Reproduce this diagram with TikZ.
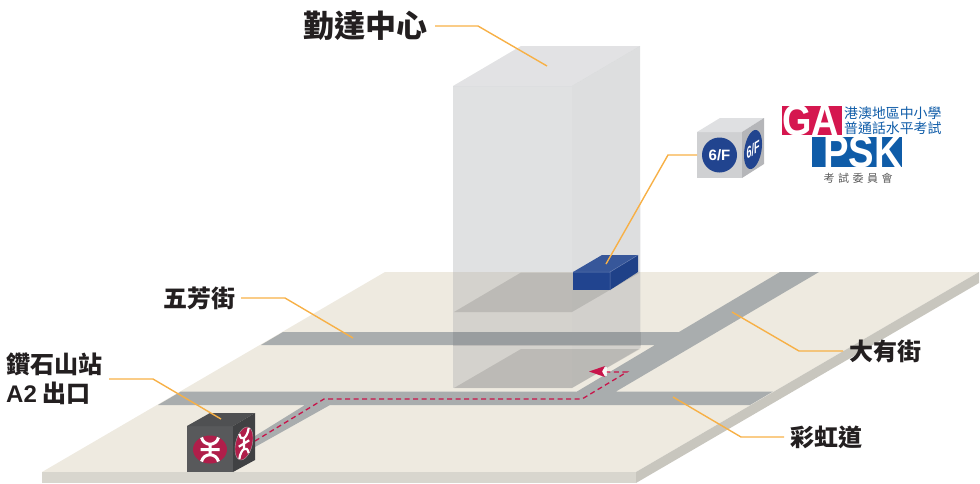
\documentclass[tikz,border=0pt]{standalone}
\usepackage{fontspec}
\setmainfont{Liberation Sans}
\newfontfamily\cjk{Noto Sans CJK TC}
\definecolor{ground}{HTML}{EEEAE0}
\definecolor{groundfront}{HTML}{D8D6CE}
\definecolor{groundside}{HTML}{C8C6BE}
\definecolor{road}{HTML}{A9ADAE}
\definecolor{leadercol}{HTML}{F7B046}
\definecolor{routecol}{HTML}{C8144A}
\definecolor{labelcol}{HTML}{231F20}
\definecolor{blueF}{HTML}{21448F}
\definecolor{mtrred}{HTML}{B01E4A}
\definecolor{glass}{RGB}{166,168,172}
\definecolor{mtrfront}{HTML}{58595B}
\definecolor{mtrtop}{HTML}{4F5052}
\definecolor{mtrside}{HTML}{404143}
\definecolor{cubefront}{HTML}{CFD0D2}
\definecolor{cubetop}{HTML}{DFE0E2}
\definecolor{cubeside}{HTML}{B5B6B9}
\definecolor{garedc}{HTML}{D5174F}
\definecolor{pskblue}{HTML}{0F5CA8}
\tikzset{
  x=1pt,y=-1pt,
  leader/.style={draw=leadercol,line width=1.4pt},
  lab/.style={inner sep=0pt,text=labelcol,font=\cjk\bfseries\fontsize{24}{24}\selectfont},
  route/.style={draw=routecol,line width=1.3pt,dash pattern=on 5pt off 3.5pt},
  cubetext/.style={inner sep=0pt,text=white,font=\bfseries\fontsize{15}{15}\selectfont},
}
\newcommand\mtrlogo[1]{%
  \draw[white,line width=#1] (0pt,-5pt)--(0pt,5pt) (-9.5pt,0pt)--(9.5pt,0pt)
  (-8.5pt,12pt) .. controls (-6pt,3pt) and (6pt,3pt) .. (8.5pt,12pt)
  (-8.5pt,-12pt) .. controls (-6pt,-3pt) and (6pt,-3pt) .. (8.5pt,-12pt);}
\begin{document}
\begin{tikzpicture}
\useasboundingbox (0,0) rectangle (980,483);
% ground
\fill[ground] (385,272)--(979,272)--(636,472)--(42,472)--cycle;
\fill[groundfront] (42,472)--(636,472)--(636,483)--(42,483)--cycle;
\fill[groundside] (636,472)--(979,272)--(979,283)--(636,483)--cycle;
% roads
\fill[road] (283,332)--(679,332)--(780,272)--(819,272)--(616,391.5)--(773,391.5)--(750,405)--(330,405)--(255,447)--(255,436)--(305,405)--(158,405)--(181,391.5)--(577,391.5)--(655,345)--(261,345)--cycle;
% building
\fill[glass,fill opacity=.35] (453,86)--(572,86)--(572,388)--(453,388)--cycle;
\fill[glass,fill opacity=.38] (572,86)--(640,46)--(640.5,348)--(572,388)--cycle;
\fill[glass,fill opacity=.33] (453,86)--(521,46)--(640,46)--(572,86)--cycle;
\fill[black,fill opacity=.11] (454,312)--(521,272.5)--(640,272.5)--(572,312)--cycle;
\fill[black,fill opacity=.11] (454,388)--(521,349)--(640,349)--(572,388)--cycle;
\fill[black,fill opacity=.08] (453,332)--(640.5,332)--(640.5,346)--(453,346)--cycle;
% blue box
\fill[blueF] (573,272)--(610,272)--(610,290)--(573,290)--cycle;
\fill[blueF!90!white] (573,272)--(602,255)--(638,255)--(610,272)--cycle;
\fill[blueF!95!black] (610,272)--(638,255)--(638,272)--(610,290)--cycle;
\draw[blueF!70!white,line width=.5pt] (573,272)--(610,272)--(610,290) (610,272)--(638,255);
% route
\draw[route] (255,441)--(324,399)--(582,399)--(627,372)--(606,372);
\fill[white,fill opacity=.8] (602,367)--(607,367)--(607,376)--(602,376)--cycle;
\fill[routecol] (589,371.5)--(605,366)--(602,371.5)--(605,377)--cycle;
% MTR cube
\fill[mtrfront] (187,426)--(233,426)--(233,472)--(187,472)--cycle;
\fill[mtrtop] (187,426)--(210,413)--(255,413)--(233,426)--cycle;
\fill[mtrside] (233,426)--(255,413)--(255,460)--(233,472)--cycle;
\fill[mtrred] (210,449.5) ellipse [x radius=17pt,y radius=14pt];
\begin{scope}[shift={(210,449.5)}]\mtrlogo{3pt}\end{scope}
\filldraw[fill=mtrred,draw=black!35,line width=.4pt] plot[domain=0:360,samples=60] ({244+9*cos(\x)},{443.5+15.5*sin(\x)-5.6*cos(\x)}) -- cycle;
\begin{scope}[shift={(244,443.5)},cm={.55,.34,0,1.05,(0,0)}]\mtrlogo{2.2pt}\end{scope}
% 6/F cube
\fill[cubefront] (697,132)--(742,132)--(742,178)--(697,178)--cycle;
\fill[cubetop] (697,132)--(720,118)--(764,118)--(742,132)--cycle;
\fill[cubeside] (742,132)--(764,118)--(764,164)--(742,178)--cycle;
\fill[blueF] (719.5,155) circle[radius=17.5pt];
\fill[blueF] plot[domain=0:360,samples=60] ({753+9*cos(\x)},{149.5+18.7*sin(\x)-5.6*cos(\x)}) -- cycle;
\node[cubetext] (cubeLabA) at (719.5,155) {6/F};
\node[cubetext,shift={(753,149.5)},cm={.6,.37,0,1.1,(0,0)},transform shape] (cubeLabB) at (0,0) {6/F};
% leaders
\node[lab,font=\cjk\bfseries\fontsize{31}{31}\selectfont] (bldg) at (365,26) {勤達中心};
\node[lab] (wf) at (199.5,298) {五芳街};
\node[lab,anchor=west] (dsh) at (6,364) {鑽石山站};
\node[lab,anchor=west] (a2) at (6,393) {{\fontspec{Liberation Sans}\bfseries A2} 出口};
\node[lab] (dy) at (885,351) {大有街};
\node[lab] (ch) at (826.5,437) {彩虹道};
\coordinate (bldgEnd) at (547,66);
\coordinate (boxEnd) at (606,264);
\coordinate (wfEnd) at (353,338);
\coordinate (mtrEnd) at (221,419);
\coordinate (dyEnd) at (732,312);
\coordinate (chEnd) at (673,397);
\coordinate (cubeL) at (697,155);
\draw[leader] (435,26)--(478,26)--(bldgEnd);
\draw[leader] (cubeL)--(668,155)--(boxEnd);
\draw[leader] (241,298)--(285,298)--(wfEnd);
\draw[leader] (109,379)--(153,379)--(mtrEnd);
\draw[leader] (843,351)--(799,351)--(dyEnd);
\draw[leader] (784,437)--(741,437)--(chEnd);
% logo
\fill[garedc] (782,106)--(842,106)--(842,135)--(782,135)--cycle;
\fill[pskblue] (812,137)--(902,137)--(902,167)--(812,167)--cycle;
\node[inner sep=0pt,anchor=west,text=white,font=\bfseries\fontsize{44}{44}\selectfont] (ga) at (782,120.5) {\scalebox{.86}[1]{GA}};
\node[inner sep=0pt,anchor=east,text=white,font=\bfseries\fontsize{45}{45}\selectfont] (psk) at (902,152) {\scalebox{.85}[1]{PSK}};
\node[inner sep=0pt,anchor=west,text=pskblue,font=\cjk\fontsize{13.9}{13.9}\selectfont] (l1) at (844,113) {港澳地區中小學};
\node[inner sep=0pt,anchor=west,text=pskblue,font=\cjk\fontsize{13.9}{13.9}\selectfont] (l2) at (844,128) {普通話水平考試};
\node[inner sep=0pt,text=black!65,font=\cjk\fontsize{11}{11}\selectfont] (l3) at (858,178) {考\hspace{3.5pt}試\hspace{3.5pt}委\hspace{3.5pt}員\hspace{3.5pt}會};
\end{tikzpicture}
\end{document}
